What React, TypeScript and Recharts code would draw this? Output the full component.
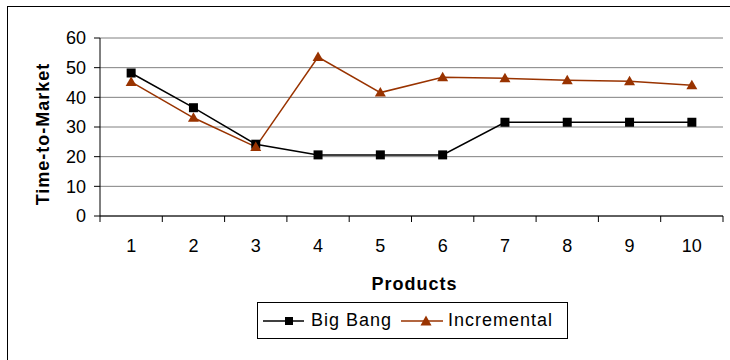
import React from 'react';
import { LineChart, Line, XAxis, YAxis, CartesianGrid, Legend } from 'recharts';

const products = [1, 2, 3, 4, 5, 6, 7, 8, 9, 10];
const bigBang = [48.2, 36.5, 24.2, 20.6, 20.6, 20.6, 31.6, 31.6, 31.6, 31.6];
const incremental = [45.2, 33.1, 23.3, 53.6, 41.6, 46.8, 46.4, 45.8, 45.4, 44.1];
const yTicks = [0, 10, 20, 30, 40, 50, 60];
const boundaryTicks = [0.5, 1.5, 2.5, 3.5, 4.5, 5.5, 6.5, 7.5, 8.5, 9.5, 10.5];

const data = products.map((p, i) => ({ product: p, bigBang: bigBang[i], incremental: incremental[i] }));

const FONT = '"Liberation Sans", Arial, sans-serif';
const BROWN = '#993300';

const SquareDot = (props: any) => {
  const { cx, cy } = props;
  if (cx == null || cy == null) return null;
  return <rect key={`sq-${props.index}`} x={cx - 4.5} y={cy - 4.5} width={9} height={9} fill="#000" />;
};

const TriangleDot = (props: any) => {
  const { cx, cy } = props;
  if (cx == null || cy == null) return null;
  return (
    <path
      key={`tri-${props.index}`}
      d={`M${cx},${cy - 5.5} L${cx + 5.5},${cy + 4} L${cx - 5.5},${cy + 4} Z`}
      fill={BROWN}
    />
  );
};

const LegendBox = () => (
  <div
    style={{
      border: '1px solid #000',
      width: 311,
      height: 37,
      boxSizing: 'border-box',
      display: 'flex',
      alignItems: 'center',
      whiteSpace: 'nowrap',
      fontFamily: FONT,
      fontSize: 18,
      letterSpacing: 1,
      color: '#000',
      background: '#fff',
    }}
  >
    <svg width={42} height={14} style={{ marginLeft: 5, flexShrink: 0 }}>
      <line x1={0} y1={7} x2={41} y2={7} stroke="#000" strokeWidth={1.5} />
      <rect x={22} y={3} width={8} height={8} fill="#000" />
    </svg>
    <span style={{ marginLeft: 6 }}>Big Bang</span>
    <svg width={43} height={14} style={{ marginLeft: 9, flexShrink: 0 }}>
      <line x1={0} y1={7} x2={42} y2={7} stroke={BROWN} strokeWidth={1.5} />
      <path d="M25,1.5 L30.5,11.5 L19.5,11.5 Z" fill={BROWN} />
    </svg>
    <span style={{ marginLeft: 4 }}>Incremental</span>
  </div>
);

const YTitle = (props: any) => {
  const { viewBox } = props;
  const x = viewBox.x + 43;
  const y = viewBox.y + viewBox.height / 2 + 7;
  return (
    <text
      x={x}
      y={y}
      transform={`rotate(-90, ${x}, ${y})`}
      textAnchor="middle"
      dominantBaseline="central"
      fontFamily={FONT}
      fontSize={18}
      fontWeight="bold"
      letterSpacing={1}
      fill="#000"
    >
      Time-to-Market
    </text>
  );
};

const XTitle = (props: any) => {
  const { viewBox } = props;
  return (
    <text
      x={viewBox.x + viewBox.width / 2 + 3}
      y={290}
      textAnchor="middle"
      fontFamily={FONT}
      fontSize={18}
      fontWeight="bold"
      letterSpacing={1}
      fill="#000"
    >
      Products
    </text>
  );
};

// boundary axis "a" only shows its tick marks; axis "b" carries the labels under it
const NoTick = () => null;

export default function App() {
  return (
    <div style={{ position: 'absolute', left: 0, top: 0, width: 730, height: 360, overflow: 'hidden', background: '#fff' }}>
      <div style={{ position: 'absolute', left: 7, top: 6, width: 760, height: 400, border: '1px solid #000', boxSizing: 'border-box' }} />
      <LineChart
        width={730}
        height={360}
        data={data}
        margin={{ top: 38, right: 7, left: 0, bottom: 64 }}
        style={{ position: 'absolute', left: 0, top: 0 }}
      >
        <CartesianGrid xAxisId="a" horizontal vertical={false} stroke="#808080" strokeWidth={1} />
        <XAxis
          xAxisId="a"
          dataKey="product"
          type="number"
          domain={[0.5, 10.5]}
          ticks={boundaryTicks}
          tick={<NoTick />}
          tickSize={6}
          height={1}
          axisLine={{ stroke: '#000' }}
          tickLine={{ stroke: '#000' }}
        />
        <XAxis
          xAxisId="b"
          dataKey="product"
          type="number"
          domain={[0.5, 10.5]}
          ticks={products}
          tickSize={0}
          tickMargin={22}
          height={79}
          axisLine={false}
          tickLine={false}
          tick={{ fill: '#000', fontSize: 18, fontFamily: FONT }}
          label={<XTitle />}
        />
        <YAxis
          domain={[0, 60]}
          ticks={yTicks}
          width={100}
          tickSize={6}
          tickMargin={8}
          axisLine={{ stroke: '#000' }}
          tickLine={{ stroke: '#000' }}
          tick={{ fill: '#000', fontSize: 18, fontFamily: FONT }}
          label={<YTitle />}
        />
        <YAxis
          yAxisId="frame"
          orientation="right"
          width={0}
          domain={[0, 60]}
          tick={false}
          tickLine={false}
          axisLine={{ stroke: '#808080' }}
        />
        <Legend
          layout="vertical"
          verticalAlign="middle"
          align="center"
          content={<LegendBox />}
          wrapperStyle={{ position: 'absolute', left: 257, top: 302, width: 311, height: 37 }}
        />
        <Line
          xAxisId="a"
          dataKey="bigBang"
          name="Big Bang"
          stroke="#000"
          strokeWidth={1.5}
          dot={<SquareDot />}
          activeDot={false}
          isAnimationActive={false}
        />
        <Line
          xAxisId="a"
          dataKey="incremental"
          name="Incremental"
          stroke={BROWN}
          strokeWidth={1.5}
          dot={<TriangleDot />}
          activeDot={false}
          isAnimationActive={false}
        />
      </LineChart>
    </div>
  );
}
